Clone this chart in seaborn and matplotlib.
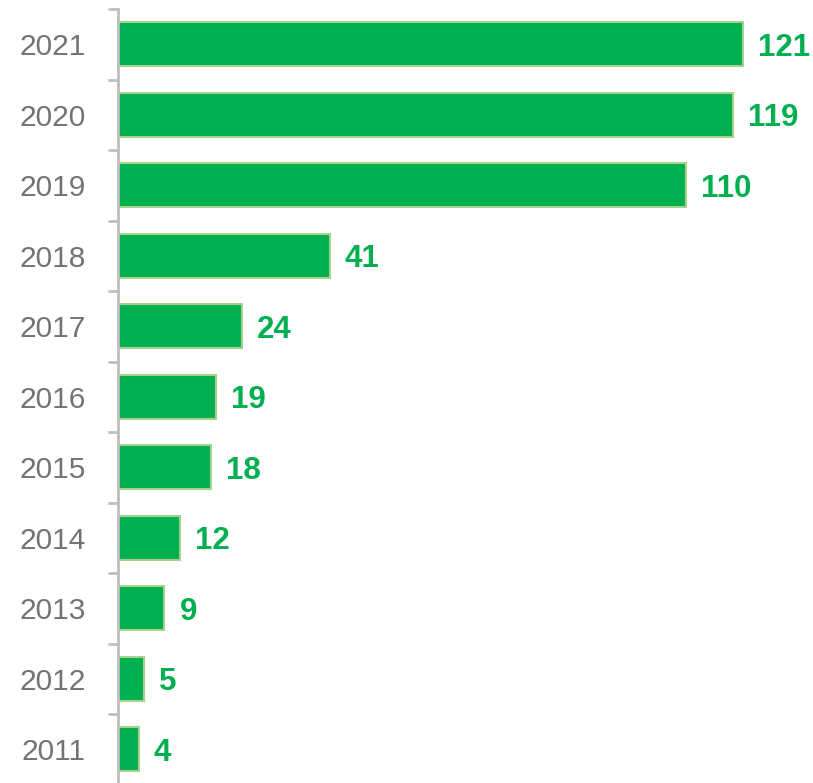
import matplotlib
matplotlib.use("Agg")
import matplotlib.pyplot as plt
import seaborn as sns
import pandas as pd
import numpy as np

years = ["2021", "2020", "2019", "2018", "2017", "2016", "2015", "2014", "2013", "2012", "2011"]
values = [121, 119, 110, 41, 24, 19, 18, 12, 9, 5, 4]

sns.set_theme(style="white")
plt.rcParams['font.family'] = ['Liberation Sans', 'DejaVu Sans']

df = pd.DataFrame({"year": years, "value": values})

W, H, DPI = 813, 783, 100
fig = plt.figure(figsize=(W / DPI, H / DPI), dpi=DPI)
px_per_unit = 625 / 121
left_px, top_px = 118, 9
xmax = (W - left_px - 2) / px_per_unit
axh = 70.5 * 11
ax = fig.add_axes([left_px / W, 1 - (top_px + axh) / H, (W - left_px - 2) / W, axh / H])

sns.barplot(data=df, x="value", y="year", order=years, orient="h",
            color="#00B050", saturation=1, width=0.62,
            edgecolor="#A9D18E", linewidth=1.5, ax=ax)

ax.set_xlim(0, xmax)
ax.set_ylim(10.5, -0.5)
ax.set_xlabel("")
ax.set_ylabel("")
ax.set_xticks([])

for s in ["top", "right", "bottom"]:
    ax.spines[s].set_visible(False)
ax.spines["left"].set_color("#BFBFBF")
ax.spines["left"].set_linewidth(2)

ax.tick_params(axis="y", which="major", left=True, length=0, pad=23,
               labelsize=21.5, labelcolor="#737373")
ax.set_yticks(np.arange(-0.5, 11, 1), minor=True)
ax.tick_params(axis="y", which="minor", left=True, length=7, width=2,
               color="#BFBFBF", direction="out")

for i, v in enumerate(values):
    ax.text(v + 15 / px_per_unit, i, str(v), va="center_baseline", ha="left",
            fontsize=22.5, fontweight="bold", color="#00B050")

fig.savefig("out.png", dpi=DPI)
